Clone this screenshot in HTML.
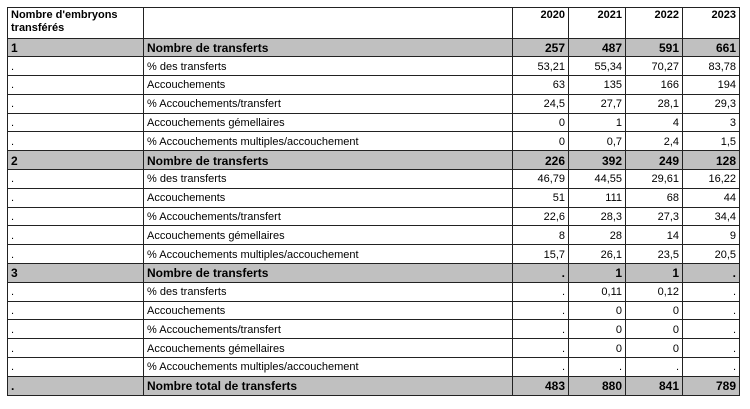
<!DOCTYPE html>
<html><head><meta charset="utf-8"><style>
html,body{margin:0;padding:0;background:#fff;width:750px;height:409px;overflow:hidden}
table{position:absolute;left:7px;top:7px;border-collapse:collapse;table-layout:fixed;font-family:"Liberation Sans",Arial,sans-serif;font-size:11px;color:#000}
td{border:1.5px solid #222;padding:2px 3px 0 3px;height:15.8px;line-height:13px;white-space:nowrap;overflow:hidden}
td.n{text-align:right}
tr.g td{background:#c0c0c0;font-weight:bold;font-size:12px}
tr.h td{height:28.5px;vertical-align:top;font-weight:bold;padding-top:1px}
</style></head><body>
<table>
<colgroup><col style="width:136px"><col style="width:369px"><col style="width:56px"><col style="width:57px"><col style="width:57px"><col style="width:57px"></colgroup>
<tr class="h"><td style="white-space:normal">Nombre d'embryons transférés</td><td></td><td class="n">2020</td><td class="n">2021</td><td class="n">2022</td><td class="n">2023</td></tr>
<tr class="g"><td>1</td><td>Nombre de transferts</td><td class="n">257</td><td class="n">487</td><td class="n">591</td><td class="n">661</td></tr>
<tr><td>.</td><td>% des transferts</td><td class="n">53,21</td><td class="n">55,34</td><td class="n">70,27</td><td class="n">83,78</td></tr>
<tr><td>.</td><td>Accouchements</td><td class="n">63</td><td class="n">135</td><td class="n">166</td><td class="n">194</td></tr>
<tr><td>.</td><td>% Accouchements/transfert</td><td class="n">24,5</td><td class="n">27,7</td><td class="n">28,1</td><td class="n">29,3</td></tr>
<tr><td>.</td><td>Accouchements gémellaires</td><td class="n">0</td><td class="n">1</td><td class="n">4</td><td class="n">3</td></tr>
<tr><td>.</td><td>% Accouchements multiples/accouchement</td><td class="n">0</td><td class="n">0,7</td><td class="n">2,4</td><td class="n">1,5</td></tr>
<tr class="g"><td>2</td><td>Nombre de transferts</td><td class="n">226</td><td class="n">392</td><td class="n">249</td><td class="n">128</td></tr>
<tr><td>.</td><td>% des transferts</td><td class="n">46,79</td><td class="n">44,55</td><td class="n">29,61</td><td class="n">16,22</td></tr>
<tr><td>.</td><td>Accouchements</td><td class="n">51</td><td class="n">111</td><td class="n">68</td><td class="n">44</td></tr>
<tr><td>.</td><td>% Accouchements/transfert</td><td class="n">22,6</td><td class="n">28,3</td><td class="n">27,3</td><td class="n">34,4</td></tr>
<tr><td>.</td><td>Accouchements gémellaires</td><td class="n">8</td><td class="n">28</td><td class="n">14</td><td class="n">9</td></tr>
<tr><td>.</td><td>% Accouchements multiples/accouchement</td><td class="n">15,7</td><td class="n">26,1</td><td class="n">23,5</td><td class="n">20,5</td></tr>
<tr class="g"><td>3</td><td>Nombre de transferts</td><td class="n">.</td><td class="n">1</td><td class="n">1</td><td class="n">.</td></tr>
<tr><td>.</td><td>% des transferts</td><td class="n">.</td><td class="n">0,11</td><td class="n">0,12</td><td class="n">.</td></tr>
<tr><td>.</td><td>Accouchements</td><td class="n">.</td><td class="n">0</td><td class="n">0</td><td class="n">.</td></tr>
<tr><td>.</td><td>% Accouchements/transfert</td><td class="n">.</td><td class="n">0</td><td class="n">0</td><td class="n">.</td></tr>
<tr><td>.</td><td>Accouchements gémellaires</td><td class="n">.</td><td class="n">0</td><td class="n">0</td><td class="n">.</td></tr>
<tr><td>.</td><td>% Accouchements multiples/accouchement</td><td class="n">.</td><td class="n">.</td><td class="n">.</td><td class="n">.</td></tr>
<tr class="g"><td>.</td><td>Nombre total de transferts</td><td class="n">483</td><td class="n">880</td><td class="n">841</td><td class="n">789</td></tr>
</table>
</body></html>
